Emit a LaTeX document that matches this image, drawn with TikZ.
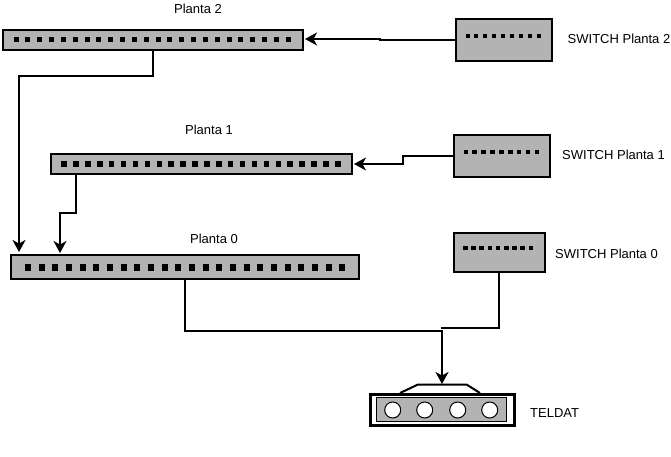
\documentclass[tikz,border=0pt]{standalone}
\usepackage{fontspec}
\setmainfont{Liberation Sans}
\usetikzlibrary{arrows.meta}
\definecolor{boxgray}{HTML}{B3B3B3}
\tikzstyle{panel} = [rectangle, draw=black, fill=boxgray, line width=2pt, inner sep=0pt]
\tikzstyle{switchbox} = [rectangle, draw=black, fill=boxgray, line width=1.6pt, inner sep=0pt]
\tikzstyle{router} = [rectangle, draw=black, fill=white, line width=3pt, inner sep=0pt, minimum width=144pt, minimum height=31pt]
\tikzstyle{port} = [circle, draw=black, fill=white, line width=1pt, inner sep=0pt, minimum size=16pt]
\tikzstyle{label} = [font=\fontsize{13}{15}\selectfont, inner sep=0pt]
\tikzstyle{arrow} = [line width=2pt,-{Stealth[length=12pt,width=13pt,inset=3.5pt]}]
\tikzstyle{wire} = [line width=2pt]
\begin{document}
\begin{tikzpicture}[x=1pt,y=-1pt]
\useasboundingbox (0,0) rectangle (671,456);

% Column 1 - patch panels
\node (panelP2) [panel, minimum width=300pt, minimum height=20pt] at (153,39.5) {};
\node (panelP1) [panel, minimum width=301pt, minimum height=19.5pt] at (201.5,163.75) {};
\node (panelP0) [panel, minimum width=348pt, minimum height=24pt] at (185,267) {};

\foreach \i in {0,...,23} {
  \fill ({16+\i*11.84-2.5},36.5) rectangle ++(5,5);
  \fill ({63.8+\i*11.9-2.5},161) rectangle ++(5.5,5.5);
  \fill ({28+\i*13.67-3},264) rectangle ++(6,6.5);
}

% Column 2 - switches
\node (switchP2) [switchbox, minimum width=96pt, minimum height=42pt] at (504,40) {};
\node (switchP1) [switchbox, minimum width=96pt, minimum height=42pt] at (502,156) {};
\node (switchP0) [switchbox, minimum width=91pt, minimum height=39pt] at (499.5,252.5) {};

\foreach \i in {0,...,8} {
  \fill ({467.5+\i*8.9-2},34) rectangle ++(4,3.5);
  \fill ({465.5+\i*8.9-2},150) rectangle ++(4.5,4);
  \fill ({465+\i*8.2-2},246) rectangle ++(4.5,4);
}

% Router
\draw [wire, line join=round] (400,393) -- (418,384.5) -- (466.5,384.5) -- (480,393);
\node (teldat) [router] at (442,409.5) {};
\node (teldatPanel) [rectangle, draw=black, fill=boxgray, line width=1pt, inner sep=0pt, minimum width=130pt, minimum height=24.5pt] at (441.5,409.5) {};
\foreach \i/\x in {1/392.7, 2/424.7, 3/457.7, 4/489.7} {
  \node (port\i) [port] at (\x,410) {};
}
\coordinate (teldatIn) at (442,384);

% Labels
\node (labelP2) [label] at (198,9) {Planta 2};
\node (labelP1) [label] at (209,130) {Planta 1};
\node (labelP0) [label] at (214,239) {Planta 0};
\node (labelS2) [label, anchor=west] at (567.5,38.5) {SWITCH Planta 2};
\node (labelS1) [label, anchor=west] at (562,154.5) {SWITCH Planta 1};
\node (labelS0) [label, anchor=west] at (555,253.5) {SWITCH Planta 0};
\node (labelT) [label, anchor=west] at (530,413) {TELDAT};

% Arrows
\coordinate (p2in) at (305,39);
\coordinate (p1in) at (354,164);
\coordinate (p0inA) at (19,252);
\coordinate (p0inB) at (60,253);
\coordinate (p1out) at (76,174);
\coordinate (s0out) at (499,272);

\draw [arrow] (switchP2.west) -- (380,40) -- (380,39) -- (p2in);
\draw [arrow] (switchP1.west) -- (403,156) -- (403,164) -- (p1in);
\draw [arrow] (panelP2.south) -- (153,76) -- (19,76) -- (p0inA);
\draw [arrow] (p1out) -- (76,213) -- (60,213) -- (p0inB);
\draw [arrow] (panelP0.south) -- (185,331) -- (442,331) -- (teldatIn);
\draw [wire] (s0out) -- (499,327.5) -- (441,327.5);

\end{tikzpicture}
\end{document}
